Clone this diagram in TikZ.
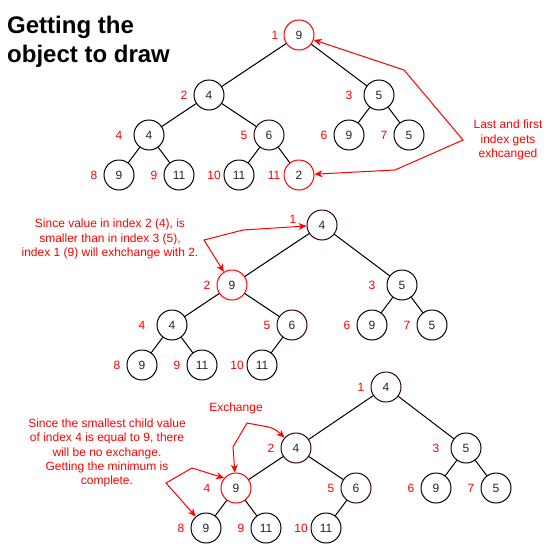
\documentclass[tikz,border=0pt]{standalone}
\usepackage{fontspec}
\setmainfont{Liberation Sans}
\usetikzlibrary{arrows.meta}
\definecolor{dred}{RGB}{51,0,0}
\definecolor{ared}{RGB}{255,0,0}
\tikzset{
  hn/.style={circle, draw=black, line width=1pt, minimum size=30pt, inner sep=0pt, font=\fontsize{12}{14}\selectfont, text=black!85},
  hnd/.style={hn, draw=dred},
  hnr/.style={hn, draw=ared},
  idx/.style={text=ared, font=\fontsize{12}{14}\selectfont, inner sep=0pt},
  note/.style={text=ared, font=\fontsize{12}{14.4}\selectfont, align=center, inner sep=0pt},
  tedge/.style={line width=1pt, black},
  redarr/.style={line width=1pt, ared, {Stealth[length=8pt,width=7pt]}-{Stealth[length=8pt,width=7pt]}}
}
\begin{document}
\begin{tikzpicture}[x=1pt,y=-1pt]
\useasboundingbox (0,0) rectangle (557,549);
% title
\node[anchor=base west, align=left, inner sep=0pt, font=\fontsize{24}{28.5}\selectfont\bfseries] (title) at (7,62) {Getting the\\object to draw};

% ---------- top tree ----------
\node[hnr] (t1) at (299,35) {9};
\node[hn] (t2) at (209,95) {4};
\node[hn] (t3) at (379,95) {5};
\node[hn] (t4) at (149,135) {4};
\node[hnd] (t5) at (269,135) {6};
\node[hn] (t6) at (349,135) {9};
\node[hn] (t7) at (409,135) {5};
\node[hn] (t8) at (119,175) {9};
\node[hn] (t9) at (179,175) {11};
\node[hn] (t10) at (239,175) {11};
\node[hnr] (t11) at (299,175) {2};
\draw[tedge] (t1)--(t2) (t1)--(t3) (t2)--(t4) (t2)--(t5) (t3)--(t6) (t3)--(t7)
  (t4)--(t8) (t4)--(t9) (t5)--(t10) (t5)--(t11);
\node[idx] (ti1) at (275,35) {1};
\node[idx] (ti2) at (184,95) {2};
\node[idx] (ti3) at (349,95) {3};
\node[idx] (ti4) at (119,135) {4};
\node[idx] (ti5) at (244,135) {5};
\node[idx] (ti6) at (324,135) {6};
\node[idx] (ti7) at (384,135) {7};
\node[idx] (ti8) at (94,175) {8};
\node[idx] (ti9) at (154,175) {9};
\node[idx] (ti10) at (214,175) {10};
\node[idx] (ti11) at (274,175) {11};
\node[note] (tn) at (508,140) {Last and first\\index gets\\exhcanged};
\coordinate (tj) at (463,140);
\draw[redarr] (t1) -- (404,70) -- (tj) -- (395,170) -- (t11);

% ---------- middle tree ----------
\node[hnd] (m1) at (322,225) {4};
\node[hnr] (m2) at (232,285) {9};
\node[hn] (m3) at (402,285) {5};
\node[hn] (m4) at (172,325) {4};
\node[hnd] (m5) at (292,325) {6};
\node[hn] (m6) at (372,325) {9};
\node[hn] (m7) at (432,325) {5};
\node[hn] (m8) at (142,365) {9};
\node[hn] (m9) at (202,365) {11};
\node[hn] (m10) at (262,365) {11};
\draw[tedge] (m1)--(m2) (m1)--(m3) (m2)--(m4) (m2)--(m5) (m3)--(m6) (m3)--(m7)
  (m4)--(m8) (m4)--(m9) (m5)--(m10);
\node[idx] (mi1) at (293,219) {1};
\node[idx] (mi2) at (207,285) {2};
\node[idx] (mi3) at (372,285) {3};
\node[idx] (mi4) at (142,325) {4};
\node[idx] (mi5) at (267,325) {5};
\node[idx] (mi6) at (347,325) {6};
\node[idx] (mi7) at (407,325) {7};
\node[idx] (mi8) at (117,365) {8};
\node[idx] (mi9) at (177,365) {9};
\node[idx] (mi10) at (237,365) {10};
\node[note] (mn) at (110,239) {Since value in index 2 (4), is\\smaller than in index 3 (5),\\index 1 (9) will exhchange with 2.};
\coordinate (mj) at (204,240);
\draw[redarr] (m1) -- (243,230) -- (mj) -- (m2);

% ---------- bottom tree ----------
\node[hnd] (b1) at (386,387) {4};
\node[hnd] (b2) at (296,448) {4};
\node[hn] (b3) at (466,448) {5};
\node[hnr] (b4) at (236,488) {9};
\node[hnd] (b5) at (356,488) {6};
\node[hn] (b6) at (436,488) {9};
\node[hn] (b7) at (496,488) {5};
\node[hn] (b8) at (206,528) {9};
\node[hn] (b9) at (266,528) {11};
\node[hn] (b10) at (326,528) {11};
\draw[tedge] (b1)--(b2) (b1)--(b3) (b2)--(b4) (b2)--(b5) (b3)--(b6) (b3)--(b7)
  (b4)--(b8) (b4)--(b9) (b5)--(b10);
\node[idx] (bi1) at (361,387) {1};
\node[idx] (bi2) at (271,448) {2};
\node[idx] (bi3) at (436,448) {3};
\node[idx] (bi4) at (207,488) {4};
\node[idx] (bi5) at (331,488) {5};
\node[idx] (bi6) at (411,488) {6};
\node[idx] (bi7) at (471,488) {7};
\node[idx] (bi8) at (181,528) {8};
\node[idx] (bi9) at (241,528) {9};
\node[idx] (bi10) at (301,528) {10};
\node[note] (ex) at (236,408) {Exchange};
\node[note] (bn) at (107,453) {Since the smallest child value\\of index 4 is equal to 9, there\\will be no exchange.\\Getting the minimum is\\complete.};
\draw[redarr] (b4) -- (233,447) -- (247,423) [rounded corners=6pt] -- (274,428) -- (b2);
\coordinate (bj) at (166,483);
\draw[redarr] (b4.140) -- (192,468) -- (bj) -- (b8);
\end{tikzpicture}
\end{document}
